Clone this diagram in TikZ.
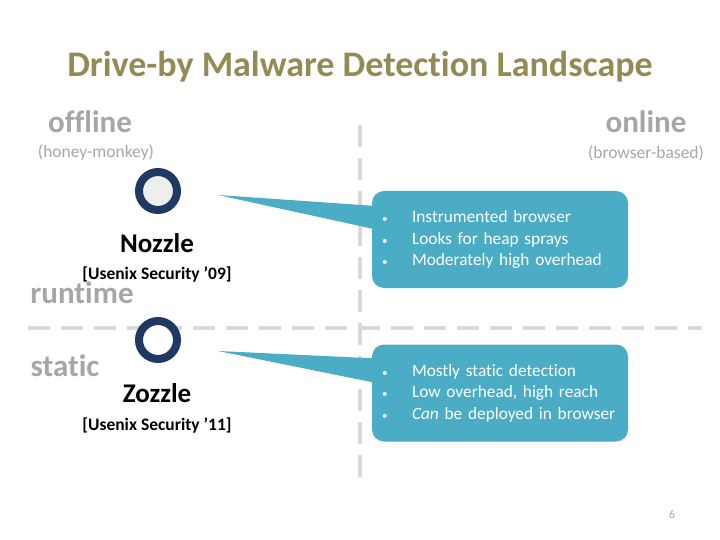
\documentclass[tikz,border=0pt]{standalone}
\usepackage{fontspec}
\setmainfont[Ligatures=NoCommon]{Carlito}
\usetikzlibrary{positioning,calc}

\definecolor{titleolive}{HTML}{948A54}
\definecolor{labelgray}{HTML}{A6A6A6}
\definecolor{axisgray}{HTML}{D9D9D9}
\definecolor{ringnavy}{HTML}{1F3864}
\definecolor{ringfill}{HTML}{EEEEEE}
\definecolor{calloutblue}{HTML}{4BACC6}

\newcommand{\calloutitem}{\makebox[30pt][l]{\fontsize{11}{11}\selectfont\textbullet}}

\begin{document}
\begin{tikzpicture}[x=1pt, y=-1pt,
    axis/.style={draw=axisgray, line width=4pt, dash pattern=on 22pt off 11pt},
    heading/.style={text=labelgray, font=\bfseries\fontsize{31}{33}\selectfont},
    subheading/.style={text=labelgray, font=\fontsize{17.5}{19}\selectfont},
    ring/.style={circle, draw=ringnavy, line width=8pt, minimum size=38pt, inner sep=0pt},
    tool/.style={font=\bfseries\fontsize{27}{29}\selectfont},
    venue/.style={font=\bfseries\fontsize{17.5}{19}\selectfont},
    callout/.style={fill=calloutblue, rounded corners=12pt, minimum width=256pt,
      minimum height=97pt, inner xsep=10pt, text width=236pt, align=left, text=white,
      font=\fontsize{17.3}{21.5}\selectfont}]
  \useasboundingbox (0,0) rectangle (720,540);

  % axes
  \coordinate (v top) at (360,125);
  \coordinate (v bot) at (360,482);
  \coordinate (h left) at (28,328);
  \coordinate (h right) at (702,328);
  \draw[axis] (v top) -- (v bot);
  \draw[axis] (h left) -- (h right);

  \node (title) at (360,67) [text=titleolive, font=\bfseries\fontsize{36}{38}\selectfont]
    {Drive-by Malware Detection Landscape};

  \node (offline) at (90,122) [heading] {offline};
  \node (honey) at (96,153) [subheading] {(honey-monkey)};
  \node (online) at (646,122) [heading] {online};
  \node (browser) at (646,153) [subheading] {(browser-based)};
  \node (runtime) at (82,293) [heading] {runtime};
  \node (static) at (65,366) [heading] {static};

  % Nozzle
  \node (noz ring) at (158,191) [ring, fill=ringfill] {};
  \node (nozzle) at (157,243) [tool] {Nozzle};
  \node (noz venue) at (157,274) [venue] {[Usenix Security '09]};
  \node (noz box) at (500,239.5) [callout]
    {\calloutitem Instrumented browser\\
     \calloutitem Looks for heap sprays\\
     \calloutitem Moderately high overhead};
  \coordinate (noz tip) at (218,195);
  \fill[calloutblue] (noz tip) -- ($(noz box.north west)+(1,15)$)
    -- ($(noz box.north west)+(1,38)$) -- cycle;

  % Zozzle
  \node (zoz ring) at (158,340) [ring, fill=white] {};
  \node (zozzle) at (157,393) [tool] {Zozzle};
  \node (zoz venue) at (157,425) [venue] {[Usenix Security '11]};
  \node (zoz box) at (500,393) [callout]
    {\calloutitem Mostly static detection\\
     \calloutitem Low overhead, high reach\\
     \calloutitem \textit{Can} be deployed in browser};
  \coordinate (zoz tip) at (218,351);
  \fill[calloutblue] (zoz tip) -- ($(zoz box.north west)+(1,14)$)
    -- ($(zoz box.north west)+(1,38)$) -- cycle;

  \node (page) at (672,514) [text=labelgray, font=\fontsize{12}{13}\selectfont] {6};
\end{tikzpicture}
\end{document}
